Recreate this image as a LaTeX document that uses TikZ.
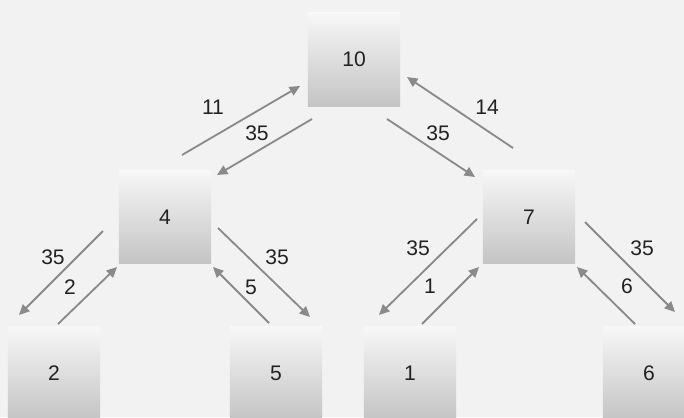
\documentclass[tikz,border=0pt]{standalone}
\usepackage{fontspec}
\setmainfont{Liberation Sans}
\usepackage{xcolor}
\usetikzlibrary{arrows.meta,shadows}
\definecolor{hpBack}{HTML}{F2F2F2}
\definecolor{hpTop}{HTML}{F7F7F7}
\definecolor{hpBottom}{HTML}{C4C4C4}
\definecolor{hpArrow}{HTML}{8A8A8A}
\definecolor{hpText}{HTML}{222222}
\tikzset{
  heap box/.style={top color=hpTop,bottom color=hpBottom,draw=none,
    minimum width=2.3cm,minimum height=2.325cm,inner sep=0pt,
    drop shadow={shadow xshift=0pt,shadow yshift=-.6pt,opacity=.35},
    font=\fontsize{15}{18}\selectfont,text=hpText},
  heap label/.style={font=\fontsize{15}{18}\selectfont,text=hpText,inner sep=0pt},
  heap arrow/.style={-{Triangle[length=2.6mm,width=2.4mm]},line width=1.3pt,draw=hpArrow}
}
\begin{document}
\begin{tikzpicture}[x=0.025cm,y=0.025cm]
\fill[hpBack] (0,0) rectangle (684,417);
\useasboundingbox (0,0) rectangle (684,417);
% boxes
\node[heap box] (n10) at (354,357.5) {10};
\node[heap box] (n4) at (165,200) {4};
\node[heap box] (n7) at (529,200) {7};
\node[heap box] (n2) at (54,43.5) {2};
\node[heap box] (n5) at (276,43.5) {5};
\node[heap box] (n1) at (410,43.5) {1};
\node[heap box] (n6) at (649,43.5) {6};
% top level
\draw[heap arrow] ([shift={(17,62)}]n4.center) -- ([shift={(-54,-26.5)}]n10.center);
\draw[heap arrow] ([shift={(-42,-59.5)}]n10.center) -- ([shift={(52,42)}]n4.center);
\draw[heap arrow] ([shift={(33,-59.5)}]n10.center) -- ([shift={(-54,40)}]n7.center);
\draw[heap arrow] ([shift={(-16,69)}]n7.center) -- ([shift={(53,-17.5)}]n10.center);
% left subtree
\draw[heap arrow] ([shift={(-62,-14)}]n4.center) -- ([shift={(-35,58.5)}]n2.center);
\draw[heap arrow] ([shift={(4,49.5)}]n2.center) -- ([shift={(-48,-50)}]n4.center);
\draw[heap arrow] ([shift={(53,-11)}]n4.center) -- ([shift={(34,56.5)}]n5.center);
\draw[heap arrow] ([shift={(-7,50.5)}]n5.center) -- ([shift={(48,-50)}]n4.center);
% right subtree
\draw[heap arrow] ([shift={(-52,-2)}]n7.center) -- ([shift={(-31,58.5)}]n1.center);
\draw[heap arrow] ([shift={(12,49.5)}]n1.center) -- ([shift={(-50,-50)}]n7.center);
\draw[heap arrow] ([shift={(56,-5)}]n7.center) -- ([shift={(26,61.5)}]n6.center);
\draw[heap arrow] ([shift={(-14,49.5)}]n6.center) -- ([shift={(48,-50)}]n7.center);
% labels
\node[heap label] (l11) at (213,310) {11};
\node[heap label] (l35a) at (257,284) {35};
\node[heap label] (l35b) at (438,284) {35};
\node[heap label] (l14) at (487,310) {14};
\node[heap label] (l35c) at (53,160) {35};
\node[heap label] (l2) at (70,130) {2};
\node[heap label] (l35d) at (277,160) {35};
\node[heap label] (l5) at (251,130) {5};
\node[heap label] (l35e) at (418,169) {35};
\node[heap label] (l1) at (430,131) {1};
\node[heap label] (l35f) at (642,169) {35};
\node[heap label] (l6) at (627,131) {6};
\end{tikzpicture}
\end{document}
